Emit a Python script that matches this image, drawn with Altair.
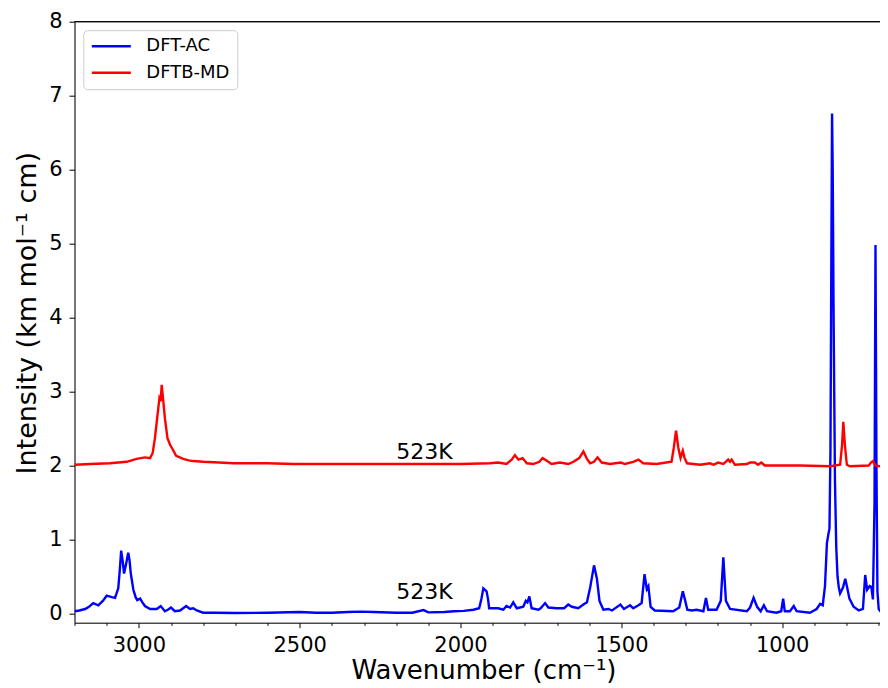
import altair as alt
import pandas as pd

# ---- DFT-AC spectrum (blue) ----
dft_wn = [3200, 3185, 3167, 3155, 3142, 3126, 3112, 3100, 3092, 3084, 3074, 3064, 3059, 3055, 3050,
          3046, 3040, 3033, 3029, 3025, 3017, 3010, 3005, 2996, 2989, 2981, 2965, 2944, 2932, 2919,
          2910, 2900, 2888, 2872, 2853, 2841, 2831, 2820, 2800, 2760, 2700, 2600, 2500, 2450, 2400,
          2350, 2310, 2270, 2200, 2150, 2115, 2100, 2050, 2020, 1990, 1960, 1942, 1935, 1929, 1919,
          1914, 1911, 1883, 1867, 1857, 1846, 1836, 1825, 1805, 1797, 1792, 1786, 1779, 1758, 1751,
          1737, 1727, 1701, 1678, 1665, 1654, 1634, 1618, 1607, 1597, 1585, 1576, 1568, 1556, 1540,
          1529, 1503, 1492, 1473, 1463, 1447, 1437, 1428, 1421, 1416, 1409, 1396, 1339, 1320, 1309,
          1302, 1295, 1281, 1266, 1245, 1237, 1230, 1204, 1191, 1183, 1175, 1162, 1110, 1100, 1089,
          1078, 1067, 1057, 1047, 1018, 1003, 997, 992, 976, 964, 955, 914, 893, 882, 874,
          867, 861, 856, 853, 850, 847, 845, 843, 840, 836, 832, 828, 824, 820, 811,
          804, 799, 791, 778, 762, 749, 742, 736, 728, 723, 718, 713, 710, 707, 704,
          700, 690, 671]
dft_int = [0.03, 0.04, 0.06, 0.09, 0.14, 0.11, 0.17, 0.24, 0.23, 0.22, 0.21, 0.34, 0.60, 0.85, 0.70,
           0.54, 0.66, 0.82, 0.72, 0.54, 0.32, 0.22, 0.18, 0.20, 0.15, 0.10, 0.06, 0.06, 0.10, 0.03,
           0.05, 0.08, 0.03, 0.04, 0.10, 0.06, 0.07, 0.04, 0.01, 0.01, 0.005, 0.01, 0.02, 0.01, 0.01,
           0.02, 0.025, 0.02, 0.01, 0.01, 0.045, 0.015, 0.02, 0.03, 0.035, 0.05, 0.07, 0.20, 0.34, 0.30,
           0.18, 0.07, 0.07, 0.05, 0.10, 0.08, 0.15, 0.07, 0.09, 0.17, 0.15, 0.23, 0.07, 0.05, 0.07,
           0.14, 0.08, 0.07, 0.07, 0.12, 0.09, 0.07, 0.12, 0.15, 0.35, 0.65, 0.47, 0.17, 0.05, 0.06,
           0.04, 0.12, 0.06, 0.11, 0.07, 0.11, 0.14, 0.53, 0.33, 0.37, 0.09, 0.04, 0.03, 0.08, 0.30,
           0.18, 0.05, 0.04, 0.05, 0.03, 0.21, 0.05, 0.05, 0.17, 0.76, 0.17, 0.06, 0.03, 0.08, 0.21,
           0.09, 0.03, 0.11, 0.03, 0.01, 0.03, 0.20, 0.03, 0.03, 0.10, 0.03, 0.01, 0.06, 0.13, 0.11,
           0.37, 0.95, 1.08, 1.15, 2.2, 5.0, 6.76, 6.0, 3.9, 1.8, 0.9, 0.5, 0.35, 0.27, 0.35,
           0.47, 0.37, 0.20, 0.09, 0.04, 0.06, 0.52, 0.32, 0.37, 0.36, 0.19, 1.5, 4.98, 2.0, 0.3,
           0.06, 0.0, 0.0]

# ---- DFTB-MD spectrum (red) ----
dftb_wn = [3200, 3150, 3090, 3038, 3007, 2981, 2965, 2957, 2950, 2943, 2936, 2932, 2929, 2924, 2919,
           2911, 2903, 2895, 2884, 2862, 2845, 2831, 2800, 2750, 2706, 2600, 2520, 2400, 2250, 2100,
           2000, 1908, 1883, 1857, 1841, 1831, 1820, 1807, 1794, 1774, 1755, 1745, 1734, 1717, 1691,
           1665, 1649, 1631, 1618, 1607, 1597, 1585, 1574, 1561, 1535, 1502, 1489, 1463, 1447, 1432,
           1391, 1344, 1337, 1330, 1323, 1316, 1309, 1304, 1296, 1255, 1224, 1214, 1199, 1183, 1168,
           1162, 1157, 1147, 1110, 1100, 1085, 1075, 1065, 1054, 945, 851, 820, 814, 810, 805,
           799, 789, 731, 724, 718, 710, 695, 671]
dftb_int = [2.01, 2.02, 2.03, 2.05, 2.09, 2.11, 2.10, 2.17, 2.37, 2.64, 2.91, 2.87, 3.09, 2.87, 2.64,
            2.37, 2.28, 2.22, 2.13, 2.09, 2.07, 2.06, 2.05, 2.04, 2.03, 2.03, 2.02, 2.02, 2.02, 2.02,
            2.02, 2.03, 2.04, 2.02, 2.08, 2.14, 2.08, 2.10, 2.03, 2.02, 2.05, 2.10, 2.07, 2.02, 2.04,
            2.02, 2.05, 2.10, 2.19, 2.09, 2.03, 2.05, 2.11, 2.04, 2.02, 2.04, 2.02, 2.05, 2.08, 2.03,
            2.02, 2.05, 2.24, 2.47, 2.24, 2.10, 2.20, 2.11, 2.03, 2.01, 2.03, 2.01, 2.04, 2.02, 2.08,
            2.05, 2.08, 2.01, 2.02, 2.04, 2.04, 2.01, 2.04, 2.00, 2.00, 1.99, 2.01, 2.27, 2.59, 2.27,
            2.01, 1.99, 2.00, 2.04, 2.06, 2.00, 1.99, 1.99]

series_names = ["DFT-AC", "DFTB-MD"]
series_colors = ["#0000ff", "#ff0000"]

label_text = ["523K", "523K"]
label_wn = [2200, 2200]
label_int = [0.19, 2.09]

x_tick_values = [3200, 3100, 3000, 2900, 2800, 2700, 2600, 2500, 2400, 2300, 2200, 2100, 2000,
                 1900, 1800, 1700, 1600, 1500, 1400, 1300, 1200, 1100, 1000, 900, 800, 700]
y_tick_values = [0, 1, 2, 3, 4, 5, 6, 7, 8]
x_domain = [696, 3200]
y_domain = [-0.125, 8]

df = pd.concat([
    pd.DataFrame({"wavenumber": dft_wn, "intensity": dft_int, "series": series_names[0]}),
    pd.DataFrame({"wavenumber": dftb_wn, "intensity": dftb_int, "series": series_names[1]}),
], ignore_index=True)
df_text = pd.DataFrame({"wavenumber": label_wn, "intensity": label_int, "label": label_text})

FONT = "DejaVu Sans"
W, H = 805.5, 601

x_scale = alt.Scale(domain=x_domain, reverse=True, nice=False, zero=False)
y_scale = alt.Scale(domain=y_domain, nice=False, zero=False)

x_axis = alt.Axis(
    values=x_tick_values,
    labelExpr="datum.value % 500 === 0 ? format(datum.value, 'd') : ''",
    labelOverlap=False, labelFlush=False,
    tickSize={"condition": {"test": "datum.value % 500 === 0", "value": 5}, "value": 2.6},
    tickWidth=1, tickColor="black", domainColor="black", domainWidth=1,
    labelFont=FONT, labelFontSize=21, labelColor="black", labelPadding=7,
    grid=False,
    title="Wavenumber (cm⁻¹)", titleFont=FONT, titleFontSize=26, titleFontWeight="normal",
    titleColor="black", titleX=409, titleY=56, titleBaseline="alphabetic", titleAlign="center",
)
y_axis = alt.Axis(
    values=y_tick_values, format="d",
    tickSize=5.5, tickWidth=1, tickColor="black", domainColor="black", domainWidth=1,
    labelFont=FONT, labelFontSize=21, labelColor="black", labelPadding=7,
    grid=False,
    title="Intensity (km mol⁻¹ cm)", titleFont=FONT, titleFontSize=27, titleFontWeight="normal",
    titleColor="black", titleX=-39.5, titleY=291, titleAngle=270, titleBaseline="alphabetic",
    titleAlign="center",
)

X = alt.X("wavenumber:Q", scale=x_scale, axis=x_axis)
Y = alt.Y("intensity:Q", scale=y_scale, axis=y_axis)

lines = alt.Chart(df).mark_line(strokeWidth=2.4, clip=True).encode(
    x=X, y=Y,
    color=alt.Color(
        "series:N",
        scale=alt.Scale(domain=series_names, range=series_colors),
        legend=alt.Legend(
            orient="none", legendX=8.8, legendY=8.5, title=None,
            symbolType="stroke", symbolSize=1521, symbolStrokeWidth=2.4,
            clipHeight=18, rowPadding=8.6, labelOffset=14, padding=7,
            labelFont=FONT, labelFontSize=18, labelColor="black",
            strokeColor="#cccccc", fillColor="white", cornerRadius=4,
        ),
    ),
)

texts = alt.Chart(df_text).mark_text(
    align="left", baseline="alphabetic", font=FONT, fontSize=22, color="black"
).encode(x=X, y=Y, text="label:N")

top_spine = alt.Chart(df_text).mark_rule(color="black", strokeWidth=1).encode(
    y=alt.Y(datum=8, scale=y_scale)
)

chart = alt.layer(lines, texts, top_spine).properties(
    width=W, height=H,
    autosize=alt.AutoSizeParams(type="none"),
    padding={"left": 66.5, "top": 13.7, "right": 0, "bottom": 66},
).configure_view(stroke=None).configure(font=FONT)

chart.save("out.html", embed_options={"renderer": "svg", "actions": False})
